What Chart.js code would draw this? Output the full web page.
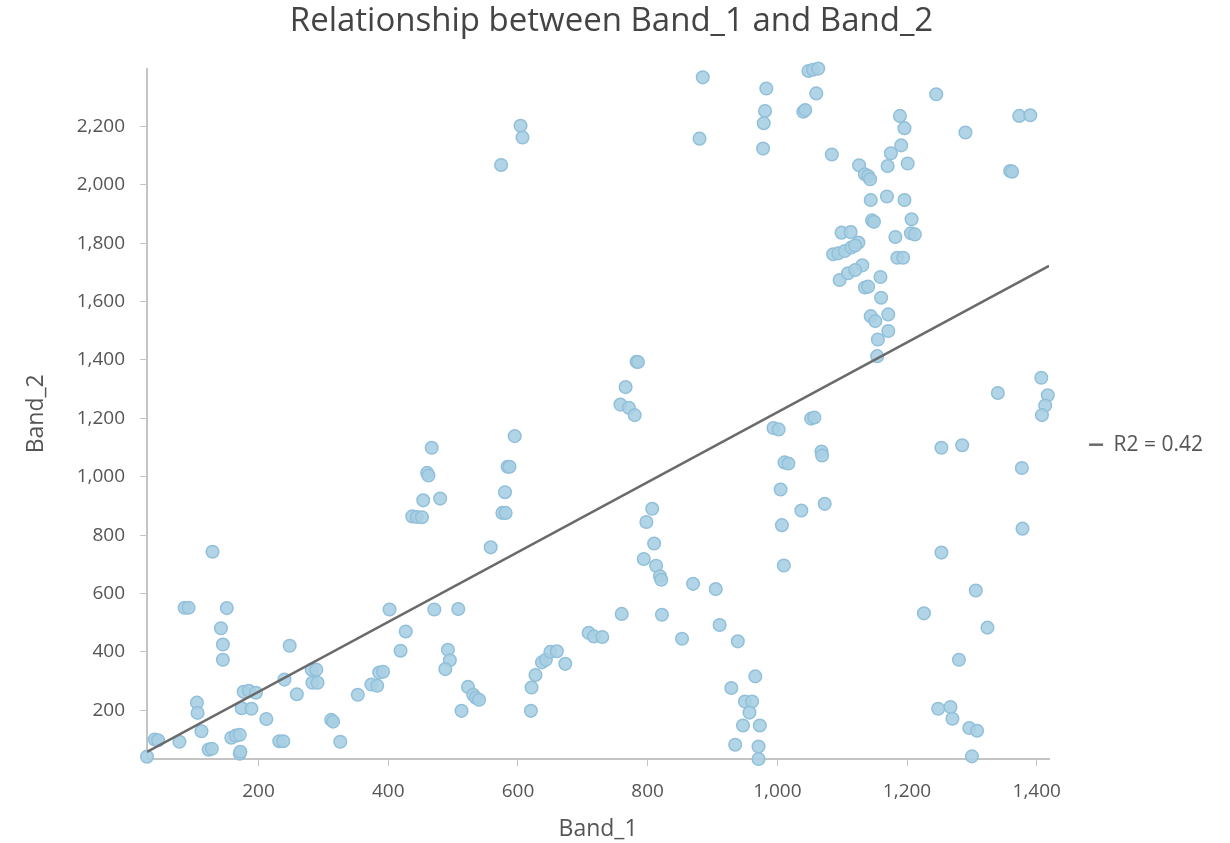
<!DOCTYPE html>
<html>
<head>
<meta charset="utf-8">
<script src="https://cdn.jsdelivr.net/npm/chart.js"></script>
<style>
html, body { margin: 0; padding: 0; background: #fff; }
#wrap { width: 1230px; height: 843px; }
</style>
</head>
<body>
<div id="wrap"><canvas id="myChart"></canvas></div>
<script>
// values
const band1 = [
  28, 40, 45, 78, 105, 106, 112, 129, 86, 92, 151, 142, 145, 145, 123, 128, 171, 172, 158, 165,
  171, 177, 185, 196, 174, 189, 212, 232, 238, 240, 248, 259, 282, 289, 283, 291, 312, 315, 326, 353,
  374, 383, 386, 392, 402, 419, 427,
  471, 508, 492, 495, 488, 523, 531, 535, 540, 513, 620, 621, 627, 637, 643, 650, 660, 673, 709, 717,
  730, 760, 558, 576, 581, 580, 584, 587, 595, 467, 460, 462, 454, 480, 437, 444, 452, 807, 798, 810,
  794, 813, 819, 821, 822, 870, 905, 911, 853, 939, 966, 929, 950, 961, 957, 947, 973, 935, 971, 971,
  994, 1002, 1011, 1017, 1005, 1007, 1010, 1037, 1073, 1068, 1069, 1052, 1057,
  1253, 1285, 1377, 1378, 1253, 1306, 1226, 1324, 1280, 1248, 1267, 1270, 1296, 1308, 1300, 1407, 1417, 1413, 1408, 1340,
  1048, 1055, 1063, 1060, 1040, 1043, 1245, 1373, 1390, 1290, 1359, 1362, 1189, 1196, 1191, 1175, 1170, 1201, 1126, 1135,
  1140, 1143, 1084, 1144, 1169, 1196, 1146, 1149, 1207, 1206, 1212, 1182, 1185, 1194, 1099, 1113, 1086, 1094, 1104, 1114,
  1125, 1120, 1131, 1096, 1109, 1120, 1159, 1135, 1140, 1160, 1144, 1151, 1171, 1171, 1155, 1154,
  885, 880, 983, 981, 979, 978, 604, 607, 574, 783, 785, 766, 758, 771, 780
];
const band2 = [
  41, 100, 97, 92, 226, 191, 128, 743, 551, 551, 550, 481, 425, 373, 65, 68, 51, 58, 106, 113,
  116, 263, 267, 260, 207, 205, 170, 94, 94, 305, 421, 255, 339, 339, 294, 294, 167, 161, 92, 253,
  288, 284, 329, 332, 545, 404, 470,
  545, 547, 407, 371, 341, 280, 253, 243, 236, 198, 198, 278, 321, 364, 373, 400, 402, 359, 465, 453,
  451, 530, 758, 876, 876, 947, 1034, 1034, 1139, 1099, 1013, 1004, 919, 925, 864, 862, 861, 890, 845, 771,
  718, 695, 659, 647, 527, 633, 615, 492, 445, 436, 316, 276, 230, 230, 192, 148, 148, 82, 76, 33,
  1167, 1162, 1049, 1045, 956, 834, 696, 884, 907, 1086, 1073, 1199, 1203,
  1099, 1108, 1030, 822, 740, 610, 532, 483, 373, 205, 211, 171, 139, 130, 42, 1339, 1279, 1244, 1211, 1287,
  2390, 2394, 2398, 2313, 2250, 2256, 2310, 2236, 2238, 2179, 2047, 2045, 2236, 2194, 2135, 2108, 2064, 2073, 2067, 2036,
  2030, 2019, 2104, 1948, 1960, 1948, 1878, 1873, 1882, 1834, 1830, 1821, 1750, 1750, 1836, 1838, 1762, 1765, 1773, 1785,
  1802, 1792, 1724, 1674, 1697, 1708, 1684, 1648, 1651, 1613, 1550, 1533, 1556, 1499, 1470, 1413,
  2368, 2158, 2330, 2253, 2211, 2124, 2202, 2162, 2068, 1394, 1393, 1307, 1247, 1236, 1211
];
// trend line ends
const trendX = [28, 1419];
const trendY = [57, 1722];
const r2Label = 'R2 = 0.42';
const xTicks = [200, 400, 600, 800, 1000, 1200, 1400];
const yTicks = [200, 400, 600, 800, 1000, 1200, 1400, 1600, 1800, 2000, 2200];

const fontFamily = "'Open Sans', 'Noto Sans', sans-serif";
const textColor = '#555';
const axisColor = '#c4c4c4';

const points = band1.map((x, i) => ({ x: x, y: band2[i] }));
const trend = trendX.map((x, i) => ({ x: x, y: trendY[i] }));

const config = {
  type: 'scatter',
  data: {
    datasets: [{
      label: 'points',
      data: points,
      backgroundColor: 'rgba(168, 207, 227, 0.9)',
      borderColor: 'rgb(146, 192, 218)',
      borderWidth: 1.5,
      pointRadius: 6.3,
      clip: false,
      order: 1
    }, {
      type: 'line',
      label: r2Label,
      data: trend,
      borderColor: '#6a6a6a',
      backgroundColor: '#6a6a6a',
      borderWidth: 2.5,
      pointRadius: 0,
      pointStyle: 'line',
      order: 0
    }]
  },
  options: {
    responsive: true,
    maintainAspectRatio: false,
    animation: false,
    layout: { padding: { left: 10, right: 17, top: 0, bottom: 0 } },
    plugins: {
      title: {
        display: true,
        text: 'Relationship between Band_1 and Band_2',
        color: '#444',
        font: { family: fontFamily, size: 33, weight: 'normal' },
        padding: { top: 2, bottom: 27 }
      },
      legend: {
        position: 'right',
        title: { display: true, text: ' ', font: { size: 2 }, padding: { top: 0, bottom: 44 } },
        labels: {
          filter: (item) => item.datasetIndex === 1,
          usePointStyle: true,
          pointStyleWidth: 14,
          color: textColor,
          padding: 40,
          font: { family: fontFamily, size: 21 }
        }
      },
      tooltip: { enabled: false }
    },
    scales: {
      x: {
        type: 'linear',
        min: 28,
        max: 1419,
        afterBuildTicks: (scale) => { scale.ticks = xTicks.map(v => ({ value: v })); },
        afterFit: (scale) => { scale.height = 84; },
        ticks: {
          color: textColor,
          padding: 14,
          font: { family: fontFamily, size: 19 },
          callback: (v) => v.toLocaleString('en-US')
        },
        grid: { drawOnChartArea: false, drawTicks: true, tickLength: 7, color: axisColor },
        border: { display: true, color: axisColor, width: 2 },
        title: {
          display: true,
          text: 'Band_1',
          color: textColor,
          font: { family: fontFamily, size: 23 },
          padding: { top: 10, bottom: 0 }
        }
      },
      y: {
        type: 'linear',
        min: 33,
        max: 2398,
        afterBuildTicks: (scale) => { scale.ticks = yTicks.map(v => ({ value: v })); },
        afterFit: (scale) => { scale.width = 137; },
        ticks: {
          color: textColor,
          padding: 15,
          font: { family: fontFamily, size: 19 },
          callback: (v) => v.toLocaleString('en-US')
        },
        grid: { drawOnChartArea: false, drawTicks: true, tickLength: 7, color: axisColor },
        border: { display: true, color: axisColor, width: 2 },
        title: {
          display: true,
          text: 'Band_2',
          color: textColor,
          font: { family: fontFamily, size: 23, lineHeight: '52px' },
          padding: { top: 0, bottom: 10 }
        }
      }
    }
  }
};

const myChart = new Chart(document.getElementById('myChart'), config);
</script>
</body>
</html>
